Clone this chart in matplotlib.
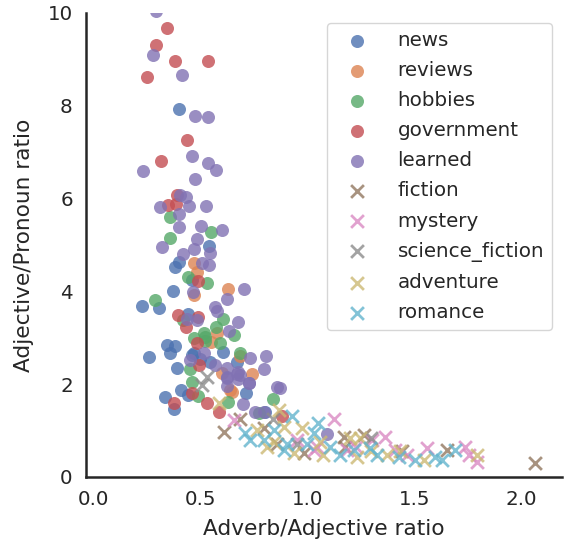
import matplotlib
matplotlib.use("Agg")
import matplotlib.pyplot as plt
import seaborn as sns

sns.set_style("white")
sns.set_context("notebook", font_scale=1.3)

# adverb/adjective ratio (x) and adjective/pronoun ratio (y) per document
news_x = [0.400, 0.540, 0.399, 0.383, 0.461, 0.372, 0.227, 0.310, 0.444, 0.344, 0.383, 0.360,
          0.263, 0.469, 0.609, 0.391, 0.547, 0.410, 0.338, 0.380, 0.445, 0.715, 0.804, 0.461,
          0.671, 0.500]
news_y = [7.92, 4.98, 4.64, 4.53, 4.25, 4.01, 3.68, 3.65, 3.51, 2.84, 2.82, 2.67,
          2.58, 2.67, 2.70, 2.34, 2.48, 1.87, 1.73, 1.46, 1.77, 1.80, 1.39, 2.63,
          2.48, 2.55]

reviews_x = [0.472, 0.484, 0.469, 0.629, 0.578, 0.741, 0.648, 0.640, 0.687, 0.550, 0.600]
reviews_y = [4.61, 4.42, 3.92, 4.05, 3.10, 2.23, 1.84, 1.87, 2.61, 2.90, 2.25]

hobbies_x = [0.358, 0.550, 0.357, 0.445, 0.531, 0.288, 0.419, 0.609, 0.575, 0.516, 0.469, 0.656,
             0.523, 0.593, 0.453, 0.461, 0.488, 0.632, 0.684, 0.840, 0.773, 0.523]
hobbies_y = [5.60, 5.28, 5.14, 4.32, 4.17, 3.81, 3.38, 3.40, 3.24, 3.11, 2.99, 3.06,
             3.02, 2.88, 2.32, 2.05, 1.75, 1.62, 2.67, 1.67, 1.37, 2.92]

government_x = [0.347, 0.293, 0.382, 0.539, 0.251, 0.439, 0.319, 0.391, 0.349, 0.388, 0.488, 0.397,
                0.492, 0.433, 0.484, 0.495, 0.461, 0.380, 0.534, 0.586, 0.881]
government_y = [9.68, 9.31, 8.97, 8.96, 8.63, 7.26, 6.82, 6.08, 5.86, 5.89, 4.22, 3.48,
                3.45, 3.23, 2.88, 2.41, 1.82, 1.59, 1.59, 1.41, 1.31]

learned_x = [0.293, 0.280, 0.416, 0.475, 0.539, 0.463, 0.536, 0.573, 0.235, 0.478, 0.407, 0.435,
             0.313, 0.450, 0.527, 0.403, 0.399, 0.506, 0.604, 0.486, 0.322, 0.469, 0.545, 0.422,
             0.508, 0.542, 0.466, 0.625, 0.704, 0.570, 0.578, 0.438, 0.484, 0.679, 0.637, 0.516,
             0.570, 0.625, 0.671, 0.625, 0.734, 0.807, 0.799, 0.684, 0.730, 0.858, 0.871, 0.702,
             0.757, 0.796, 1.092, 0.679, 0.726, 0.625, 0.625, 0.679, 0.453]
learned_y = [10.05, 9.09, 8.66, 7.77, 7.75, 6.91, 6.76, 6.61, 6.59, 6.42, 6.08, 6.03,
             5.82, 5.84, 5.85, 5.66, 5.38, 5.40, 5.32, 5.13, 4.95, 4.91, 4.82, 4.80,
             4.61, 4.57, 3.98, 3.83, 4.05, 3.66, 3.58, 3.41, 3.38, 3.35, 3.15, 2.67,
             2.41, 2.16, 2.23, 1.95, 2.56, 2.61, 2.32, 2.20, 2.02, 1.93, 1.91, 1.57,
             1.41, 1.41, 0.93, 2.11, 2.03, 2.13, 2.34, 2.27, 2.52]

fiction_x = [0.612, 0.687, 0.796, 0.858, 0.983, 1.170, 1.178, 1.263, 1.442, 1.652, 2.065]
fiction_y = [0.98, 1.26, 1.05, 0.72, 0.51, 0.87, 0.65, 0.91, 0.55, 0.58, 0.30]

mystery_x = [0.656, 1.123, 0.951, 1.030, 1.302, 1.364, 1.411, 1.466, 1.559, 1.738, 1.754, 1.793,
             1.045, 1.185, 1.230]
mystery_y = [1.23, 1.24, 0.80, 0.58, 0.80, 0.87, 0.58, 0.47, 0.62, 0.65, 0.47, 0.33,
             0.65, 0.58, 0.65]

scifi_x = [0.534, 0.508, 0.840, 0.950, 1.300]
scifi_y = [2.16, 1.98, 1.24, 0.72, 0.85]

adventure_x = [0.586, 0.866, 0.765, 0.890, 0.975, 0.843, 1.061, 0.936, 1.076, 0.812, 1.201, 1.248,
               1.232, 1.372, 1.435, 1.544, 1.793, 1.300]
adventure_y = [1.59, 1.44, 1.01, 1.08, 1.05, 0.76, 0.76, 0.51, 0.47, 0.65, 0.83, 0.83,
               0.44, 0.47, 0.55, 0.37, 0.47, 0.55]

romance_x = [0.928, 1.050, 0.710, 0.843, 1.030, 0.734, 0.796, 0.905, 0.998, 1.107, 0.890, 1.154,
             1.217, 1.294, 1.326, 1.427, 1.505, 1.598, 1.629, 1.692]
romance_y = [1.31, 1.16, 0.94, 1.01, 0.94, 0.80, 0.80, 0.72, 0.72, 0.65, 0.58, 0.47,
             0.58, 0.62, 0.47, 0.44, 0.37, 0.44, 0.37, 0.58]

groups = [
    ("news", news_x, news_y, "o"),
    ("reviews", reviews_x, reviews_y, "o"),
    ("hobbies", hobbies_x, hobbies_y, "o"),
    ("government", government_x, government_y, "o"),
    ("learned", learned_x, learned_y, "o"),
    ("fiction", fiction_x, fiction_y, "x"),
    ("mystery", mystery_x, mystery_y, "x"),
    ("science_fiction", scifi_x, scifi_y, "x"),
    ("adventure", adventure_x, adventure_y, "x"),
    ("romance", romance_x, romance_y, "x"),
]
colors = sns.color_palette("deep", 10)

fig = plt.figure(figsize=(5.64, 5.44), dpi=100)
ax = fig.add_axes([0.1525, 0.1232, 0.844, 0.853])

for (name, xs, ys, m), c in zip(groups, colors):
    if m == "o":
        ax.scatter(xs, ys, s=88, marker=m, color=c, alpha=0.8, linewidths=0, label=name)
    else:
        ax.scatter(xs, ys, s=85, marker=m, color=c, alpha=0.8, linewidths=2, label=name)

ax.set_xlim(-0.033, 2.19)
ax.set_ylim(0, 10)
ax.set_xticks([0.0, 0.5, 1.0, 1.5, 2.0])
ax.set_yticks([0, 2, 4, 6, 8, 10])
ax.set_xlabel("Adverb/Adjective ratio", labelpad=7)
ax.set_ylabel("Adjective/Pronoun ratio", labelpad=10)
for sp in ax.spines.values():
    sp.set_linewidth(1.8)
sns.despine(ax=ax)
ax.legend(loc="upper right", labelspacing=0.56, handlelength=2.2, handletextpad=0.95)

fig.savefig("out.png", dpi=100)
